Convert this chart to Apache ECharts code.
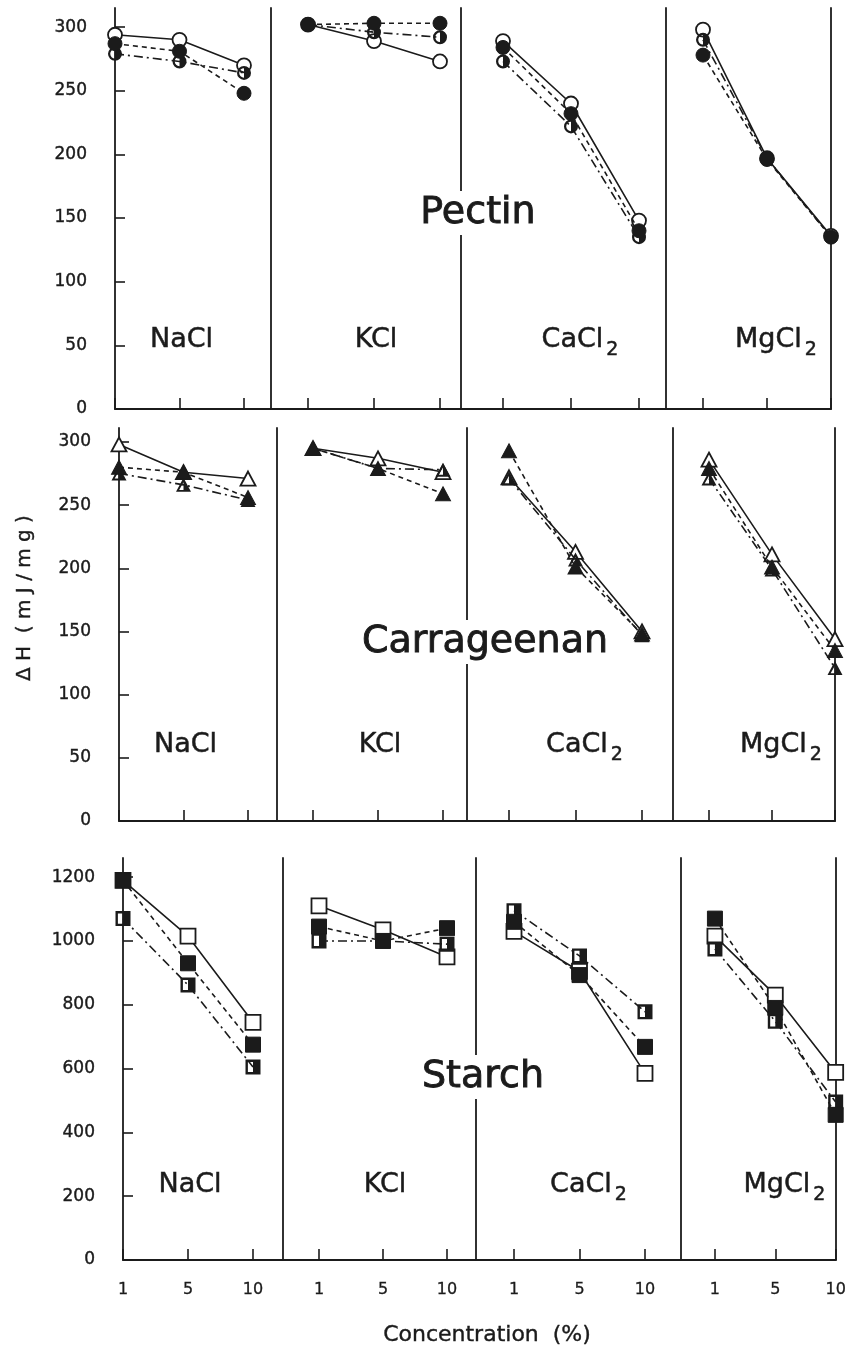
<!DOCTYPE html>
<html>
<head>
<meta charset="utf-8">
<title>Enthalpy of gelation vs. salt concentration</title>
<script src="https://cdn.jsdelivr.net/npm/echarts@6/dist/echarts.min.js"></script>
<style>
  html, body { margin: 0; padding: 0; background: #ffffff; }
  #chart { width: 849px; height: 1351px; }
</style>
</head>
<body>
<div id="chart"></div>
<script>
// ---- data -------------------------------------------------------------
// salt concentration levels (%) on every panel's x axis
const concentrations = ['1', '5', '10'];
const salts = ['NaCl', 'KCl', 'CaCl2', 'MgCl2'];
const polymers = ['Pectin', 'Carrageenan', 'Starch'];

// y-axis tick labels, ΔH in mJ/mg
const pectinTicks = [0, 50, 100, 150, 200, 250, 300];
const carrageenanTicks = [0, 50, 100, 150, 200, 250, 300];
const starchTicks = [0, 200, 400, 600, 800, 1000, 1200];

// ΔH (mJ/mg) at 1, 5, 10 % for NaCl, KCl, CaCl2, MgCl2
// set A: solid line, open markers
// set B: dashed line, filled markers
// set C: dash-dot line, half-filled markers
const pectinA = [[294, 290, 270], [302, 289, 273], [289, 240, 148], [298, 197, 136]];
const pectinB = [[287, 281, 248], [302, 303, 303], [284, 232, 140], [278, 196, 135]];
const pectinC = [[279, 273, 264], [302, 296, 292], [273, 222, 135], [290, 197, 135]];

const carrageenanA = [[298, 276, 271], [295, 287, 276], [272, 213, 150], [286, 211, 144]];
const carrageenanB = [[280, 276, 256], [295, 279, 259], [293, 201, 148], [279, 201, 135]];
const carrageenanC = [[275, 266, 254], [295, 279, 278], [271, 207, 147], [271, 199, 121]];

const starchA = [[1190, 1015, 745], [1110, 1035, 950], [1030, 905, 585], [1015, 830, 588]];
const starchB = [[1190, 930, 675], [1045, 1000, 1040], [1060, 893, 668], [1070, 790, 455]];
const starchC = [[1070, 862, 605], [1000, 1000, 990], [1095, 953, 778], [975, 748, 495]];

// ---- layout -----------------------------------------------------------
const INK = '#1b1b1b';
const FONT = '"DejaVu Sans", "Liberation Sans", sans-serif';

// per row: plot top / baseline, axis max, and for every panel
// [left edge, right edge, x of the 1 % tick, x of the 10 % tick]
const rowLayout = [
  { top: 8, base: 409, max: 315, titleX: 478, titleY: 213, saltY: 341,
    panels: [[115, 271, 115, 244], [271, 461, 308, 440], [461, 666, 503, 639], [666, 831, 703, 831]] },
  { top: 428, base: 821, max: 311, titleX: 485, titleY: 642, saltY: 746,
    panels: [[119, 277, 119, 248], [277, 467, 313, 443], [467, 673, 509, 642], [673, 835, 709, 835]] },
  { top: 858, base: 1260, max: 1260, titleX: 483, titleY: 1077, saltY: 1186,
    panels: [[123, 283, 123, 253], [283, 476, 319, 447], [476, 681, 514, 645], [681, 836, 715, 836]] }
];
const saltLabelShift = [2, 2, 9, 9];

const rowData = [
  { ticks: pectinTicks, sets: [pectinA, pectinC, pectinB], symbol: 'circle' },
  { ticks: carrageenanTicks, sets: [carrageenanA, carrageenanC, carrageenanB], symbol: 'triangle' },
  { ticks: starchTicks, sets: [starchA, starchC, starchB], symbol: 'rect' }
];

// half-filled marker outlines: outer shape with the left half cut out
const halfSymbols = {
  circle: 'path://M5 0A5 5 0 1 1 5 10A5 5 0 1 1 5 0ZM5 1.6A3.4 3.4 0 0 0 5 8.4Z',
  triangle: 'path://M5 0L10 10L0 10ZM5 3.2L2.1 8.6L5 8.6Z',
  rect: 'path://M0 0L10 0L10 10L0 10ZM1.6 1.6L1.6 8.4L5 8.4L5 1.6Z'
};
const symbolSizes = { circle: 14, triangle: [15, 14], rect: [15, 15] };

// draw order A (open), C (half), B (filled on top)
const setStyles = [
  { kind: 'open', dash: 'solid' },
  { kind: 'half', dash: [9, 4, 2, 4] },
  { kind: 'filled', dash: [5, 4] }
];

// ---- option -----------------------------------------------------------
const grids = [], xAxes = [], yAxes = [], series = [], graphics = [];
const extraY = [];

rowLayout.forEach((row, r) => {
  const info = rowData[r];
  row.panels.forEach((p, c) => {
    const idx = r * 4 + c;
    const [L, R, p1, p10] = p;
    const step = (p10 - p1) / 2;

    grids.push({ left: L, top: row.top, width: R - L, height: row.base - row.top });

    xAxes.push({
      type: 'value', gridIndex: idx,
      min: (L - p1) / step, max: (R - p1) / step,
      axisLine: { show: true, onZero: false, lineStyle: { color: INK, width: 1.8 } },
      axisTick: { show: true, inside: true, length: 11, customValues: [0, 1, 2],
                  lineStyle: { color: INK, width: 1.6 } },
      axisLabel: { show: r === 2, customValues: [0, 1, 2], margin: 22,
                   formatter: v => concentrations[Math.round(v)],
                   color: INK, fontSize: 16, fontFamily: FONT,
                   textBorderColor: INK, textBorderWidth: 0.3 },
      splitLine: { show: false }
    });

    yAxes.push({
      type: 'value', gridIndex: idx, min: 0, max: row.max,
      axisLine: { show: true, onZero: false, lineStyle: { color: INK, width: 1.8 } },
      axisTick: { show: c === 0, inside: true, length: 10, customValues: info.ticks,
                  lineStyle: { color: INK, width: 1.6 } },
      axisLabel: { show: c === 0, customValues: info.ticks, margin: 28,
                   formatter: v => String(v),
                   color: INK, fontSize: 17, fontFamily: FONT,
                   textBorderColor: INK, textBorderWidth: 0.4 },
      splitLine: { show: false }
    });

    if (c === 3) {
      extraY.push({
        type: 'value', gridIndex: idx, position: 'right', min: 0, max: row.max,
        axisLine: { show: true, onZero: false, lineStyle: { color: INK, width: 1.8 } },
        axisTick: { show: false }, axisLabel: { show: false }, splitLine: { show: false }
      });
    }

    info.sets.forEach((set, k) => {
      const st = setStyles[k];
      const base = info.symbol;
      let symbol = base, item;
      if (st.kind === 'open') {
        item = { color: '#ffffff', borderColor: INK, borderWidth: 1.8 };
      } else if (st.kind === 'filled') {
        item = { color: INK, borderColor: INK, borderWidth: 1 };
      } else {
        symbol = halfSymbols[base];
        item = { color: INK, borderWidth: 0 };
      }
      series.push({
        type: 'line', xAxisIndex: idx, yAxisIndex: idx,
        data: set[c].map((v, i) => [i, v]),
        symbol: symbol, symbolSize: symbolSizes[base], showAllSymbol: true,
        itemStyle: item,
        lineStyle: { color: INK, width: 1.6, type: st.dash },
        emphasis: { disabled: true },
        silent: true, animation: false, z: 2 + k
      });
    });

    // salt name under the curves, centred on the 5 % position
    const name = salts[c];
    const m = name.match(/^(.*?)(\d+)$/);
    const text = m ? '{m|' + m[1] + '}{s|' + m[2] + '}' : '{m|' + name + '}';
    graphics.push({
      type: 'text', z: 1,
      style: {
        text: text, x: p1 + step + saltLabelShift[c], y: row.saltY,
        align: 'center', verticalAlign: 'middle', fill: INK,
        rich: {
          m: { fontSize: 27, fontFamily: FONT, lineHeight: 30, verticalAlign: 'top',
               fill: INK, stroke: INK, lineWidth: 0.5 },
          s: { fontSize: 19, fontFamily: FONT, lineHeight: 19, verticalAlign: 'top',
               padding: [15, 0, 0, 3], fill: INK, stroke: INK, lineWidth: 0.5 }
        }
      }
    });
  });

  // polymer name, with a white box that breaks the panel divider behind it
  graphics.push({
    type: 'text', z: 1,
    style: {
      text: polymers[r], x: row.titleX, y: row.titleY,
      align: 'center', verticalAlign: 'middle',
      fontSize: 38, fontFamily: FONT, fill: INK,
      stroke: INK, lineWidth: 0.9,
      backgroundColor: '#ffffff', padding: [3, 6]
    }
  });
});

// shared axis titles
graphics.push({
  type: 'text', x: 25, y: 598, rotation: Math.PI / 2,
  style: { text: 'Δ H  ( m J / m g )', align: 'center', verticalAlign: 'middle',
           fontSize: 20, fontFamily: FONT, fill: INK, stroke: INK, lineWidth: 0.4 }
});
graphics.push({
  type: 'text', x: 487, y: 1335,
  style: { text: 'Concentration  (%)', align: 'center', verticalAlign: 'middle',
           fontSize: 22, fontFamily: FONT, fill: INK, stroke: INK, lineWidth: 0.4 }
});

const option = {
  backgroundColor: '#ffffff',
  animation: false,
  grid: grids,
  xAxis: xAxes,
  yAxis: yAxes.concat(extraY),
  series: series,
  graphic: graphics
};

const chart = echarts.init(document.getElementById('chart'), null, { renderer: 'canvas' });
chart.setOption(option);
</script>
</body>
</html>
